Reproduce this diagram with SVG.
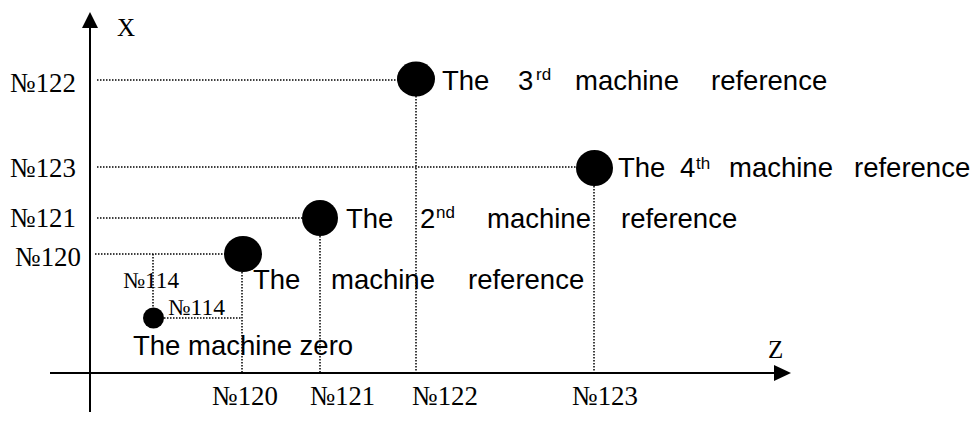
<svg xmlns="http://www.w3.org/2000/svg" width="973" height="421" viewBox="0 0 973 421">
<style>
.axis{stroke:#000;stroke-width:2;fill:none}
.dot{stroke:#000;stroke-width:1.5;stroke-dasharray:1.5 1.5;fill:none}
.num{font-family:"Liberation Serif","Times New Roman",serif;font-size:28px;fill:#000}
.small{font-family:"Liberation Serif","Times New Roman",serif;font-size:23px;fill:#000}
.lbl{font-family:"Liberation Sans",Arial,sans-serif;font-size:27.5px;fill:#000}
.sup{font-size:17px}
.ax{font-family:"Liberation Serif","Times New Roman",serif;font-size:25px;fill:#000}
</style>
<rect width="973" height="421" fill="#fff"/>
<g id="axes">
<line class="axis" x1="90" y1="412" x2="90" y2="24"/>
<polygon points="90,12 82,28 98,28" fill="#000"/>
<line class="axis" x1="50" y1="373" x2="778" y2="373"/>
<polygon points="791,373 774,365 774,381" fill="#000"/>
<text class="ax" x="117" y="36">X</text>
<text class="ax" x="768" y="358">Z</text>
</g>
<g id="connectors">
<line class="dot" x1="97" y1="80" x2="399" y2="80"/>
<line class="dot" x1="97" y1="167" x2="577" y2="167"/>
<line class="dot" x1="97" y1="218" x2="302" y2="218"/>
<line class="dot" x1="95" y1="254" x2="225" y2="254"/>
<line class="dot" x1="153" y1="254" x2="153" y2="308"/>
<line class="dot" x1="164" y1="318" x2="242" y2="318"/>
<line class="dot" x1="242" y1="272" x2="242" y2="373"/>
<line class="dot" x1="320" y1="236" x2="320" y2="373"/>
<line class="dot" x1="416" y1="96" x2="416" y2="373"/>
<line class="dot" x1="594" y1="186" x2="594" y2="373"/>
</g>
<g id="x-labels">
<text class="num" x="10" y="92" textLength="66" lengthAdjust="spacingAndGlyphs">№122</text>
<text class="num" x="10" y="177" textLength="66" lengthAdjust="spacingAndGlyphs">№123</text>
<text class="num" x="10" y="227" textLength="66" lengthAdjust="spacingAndGlyphs">№121</text>
<text class="num" x="15" y="266" textLength="66" lengthAdjust="spacingAndGlyphs">№120</text>
</g>
<g id="z-labels">
<text class="num" x="212" y="405" textLength="66" lengthAdjust="spacingAndGlyphs">№120</text>
<text class="num" x="310" y="405" textLength="65" lengthAdjust="spacingAndGlyphs">№121</text>
<text class="num" x="412" y="405" textLength="66" lengthAdjust="spacingAndGlyphs">№122</text>
<text class="num" x="572" y="405" textLength="66" lengthAdjust="spacingAndGlyphs">№123</text>
</g>
<g id="machine-zero">
<circle cx="153.5" cy="318" r="10.5" fill="#000"/>
<text class="small" x="123" y="288" textLength="56" lengthAdjust="spacingAndGlyphs">№114</text>
<text class="small" x="168" y="315" textLength="57" lengthAdjust="spacingAndGlyphs">№114</text>
<text class="lbl" x="133" y="355">The machine zero</text>
</g>
<g id="ref-1">
<ellipse cx="243" cy="254" rx="19" ry="18" fill="#000"/>
<text class="lbl" y="289"><tspan x="253">The</tspan><tspan x="331">machine</tspan><tspan x="468">reference</tspan></text>
</g>
<g id="ref-2">
<ellipse cx="320" cy="218" rx="18" ry="18" fill="#000"/>
<text class="lbl" y="228"><tspan x="346">The</tspan><tspan x="420">2</tspan><tspan class="sup" x="436" y="218">nd</tspan><tspan x="487" y="228">machine</tspan><tspan x="621">reference</tspan></text>
</g>
<g id="ref-3">
<ellipse cx="416" cy="79" rx="19" ry="17.5" fill="#000"/>
<text class="lbl" y="90"><tspan x="442">The</tspan><tspan x="518">3</tspan><tspan class="sup" x="536" y="80">rd</tspan><tspan x="575" y="90">machine</tspan><tspan x="711">reference</tspan></text>
</g>
<g id="ref-4">
<ellipse cx="594.5" cy="168" rx="18.5" ry="18" fill="#000"/>
<text class="lbl" y="177"><tspan x="618">The</tspan><tspan x="680">4</tspan><tspan class="sup" x="696" y="169">th</tspan><tspan x="729" y="177">machine</tspan><tspan x="854">reference</tspan></text>
</g>
</svg>
